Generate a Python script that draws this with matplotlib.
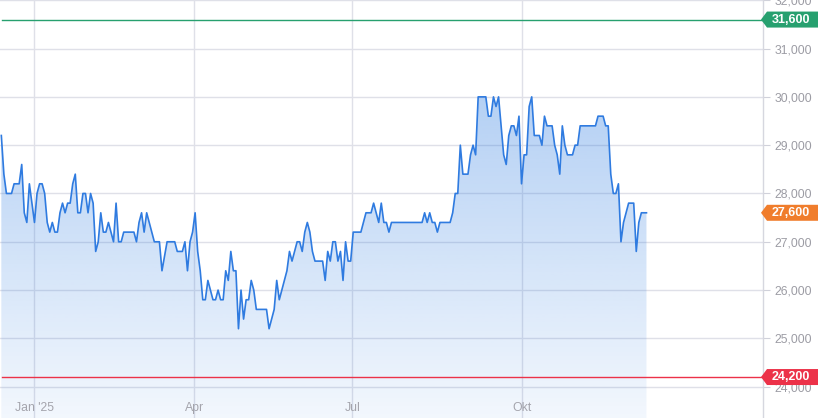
import numpy as np
import matplotlib.pyplot as plt
from matplotlib.patches import Polygon
from matplotlib.ticker import FuncFormatter

plt.rcParams['font.family'] = ['Liberation Sans', 'DejaVu Sans']

# daily closing prices, one per trading day (mid Dec 2024 - Dec 2025)
prices = [
    29200, 28400, 28000, 28000, 28000, 28200, 28200, 28200, 28600, 27600,
    27400, 28200, 27800, 27400, 28000, 28200, 28200, 28000, 27400, 27200,
    27400, 27200, 27200, 27600, 27800, 27600, 27800, 27800, 28200, 28400,
    27600, 27600, 28000, 28000, 27600, 28000, 27800, 26800, 27000, 27600,
    27200, 27200, 27400, 27200, 27000, 27800, 27000, 27000, 27200, 27200,
    27200, 27200, 27200, 27000, 27400, 27600, 27200, 27600, 27400, 27200,
    27000, 27000, 27000, 26400, 26700, 27000, 27000, 27000, 27000, 26800,
    26800, 26800, 27000, 26400, 27000, 27200, 27600, 26800, 26400, 25800,
    25800, 26200, 26000, 25800, 25800, 26000, 25800, 25800, 26400, 26200,
    26800, 26400, 26400, 25200, 26000, 25400, 25800, 25800, 26200, 26000,
    25600, 25600, 25600, 25600, 25600, 25200, 25400, 25600, 26200, 25800,
    26000, 26200, 26400, 26800, 26600, 26800, 27000, 27000, 26800, 27200,
    27400, 27200, 26800, 26600, 26600, 26600, 26600, 26200, 26800, 26600,
    27000, 27000, 26600, 26800, 26200, 27000, 26600, 26600, 27200, 27200,
    27200, 27200, 27400, 27600, 27600, 27600, 27800, 27600, 27400, 27800,
    27400, 27400, 27200, 27400, 27400, 27400, 27400, 27400, 27400, 27400,
    27400, 27400, 27400, 27400, 27400, 27400, 27600, 27400, 27600, 27400,
    27400, 27200, 27400, 27400, 27400, 27400, 27400, 27600, 28000, 28000,
    29000, 28400, 28400, 28400, 28800, 29000, 28800, 30000, 30000, 30000,
    30000, 29600, 29600, 30000, 29800, 30000, 29400, 28800, 28600, 29200,
    29400, 29400, 29200, 29600, 28200, 28800, 28800, 29800, 30000, 29200,
    29200, 29200, 29000, 29600, 29400, 29400, 29400, 29000, 28800, 28400,
    29400, 29000, 28800, 28800, 28800, 29000, 29000, 29400, 29400, 29400,
    29400, 29400, 29400, 29400, 29600, 29600, 29600, 29400, 29400, 28400,
    28000, 28000, 28200, 27000, 27400, 27600, 27800, 27800, 27800, 26800,
    27400, 27600, 27600, 27600,
]

# trading-day index of the first day of each quarter
month_pos = [13.0, 75.7, 137.7, 204.0]
month_labels = ["Jan '25", "Apr", "Jul", "Okt"]

y_ticks = list(range(24000, 32001, 1000))

# price badges on the right axis: high, last, low
levels = [31600, 27600, 24200]
level_colors = ['#27a06f', '#f07d2c', '#ec3249']
level_has_line = [True, False, True]

W, H = 818, 418
fig = plt.figure(figsize=(W / 100, H / 100), dpi=100)
ax_right = 763 / W
ax = fig.add_axes([0, 0, ax_right, 1])

ylo, yhi = 23352, 32005
xlo, xhi = -0.52, 298.7
x = np.arange(len(prices))
ax.set_xlim(xlo, xhi)
ax.set_ylim(ylo, yhi)

line_col = '#2f7be0'

# gradient area under the line
area = ax.fill_between(x, prices, ylo, facecolor='none', lw=0)
vals = np.linspace(yhi, ylo, 300)
alpha = np.clip(0.06 + 0.30 * (vals - ylo) / (30000 - ylo), 0, 0.38)
grad = np.zeros((300, 1, 4))
grad[:, 0, 0] = 47 / 255
grad[:, 0, 1] = 125 / 255
grad[:, 0, 2] = 225 / 255
grad[:, 0, 3] = alpha
im = ax.imshow(grad, extent=[xlo, xhi, ylo, yhi], aspect='auto',
               origin='upper', zorder=1, interpolation='bilinear')
im.set_clip_path(area.get_paths()[0], transform=ax.transData)

ax.plot(x, prices, color=line_col, lw=1.2, zorder=3)

# grid + axes
grid_col = '#dfe0e8'
ax.set_yticks(y_ticks)
ax.set_xticks(month_pos)
ax.set_xticklabels([])
ax.grid(True, color=grid_col, lw=1, zorder=0)
ax.set_axisbelow(True)
ax.yaxis.tick_right()
ax.yaxis.set_major_formatter(FuncFormatter(lambda v, p: f'{int(v):,}'))
ax.tick_params(axis='y', length=5, color='#d0d1da', labelcolor='#9c9ca4',
               labelsize=8.8, pad=3)
ax.tick_params(axis='x', length=0)
for s in ['top', 'left', 'bottom']:
    ax.spines[s].set_visible(False)
ax.spines['right'].set_color('#d6d7df')
ax.spines['right'].set_linewidth(1)

for pos, lab in zip(month_pos, month_labels):
    ax.text(pos, 10 / H, lab, transform=ax.get_xaxis_transform(),
            ha='center', va='center', fontsize=8.8, color='#a4a4ac')

# level lines and badges
for v, c, has_line in zip(levels, level_colors, level_has_line):
    if has_line:
        ax.axhline(v, xmin=2 / 763, xmax=1, color=c, lw=1, zorder=4)
    yc = (v - ylo) / (yhi - ylo) * H
    pts = [(761, yc), (767, yc + 8), (822, yc + 8), (822, yc - 8), (767, yc - 8)]
    pts = [(px / W, py / H) for px, py in pts]
    fig.patches.append(Polygon(pts, closed=True, facecolor=c, edgecolor='none',
                               transform=fig.transFigure, zorder=5))
    fig.text(791 / W, yc / H, f'{v:,}', ha='center', va='center',
             color='white', fontsize=9, fontweight='bold', zorder=6)

fig.savefig('out.png', dpi=100)
